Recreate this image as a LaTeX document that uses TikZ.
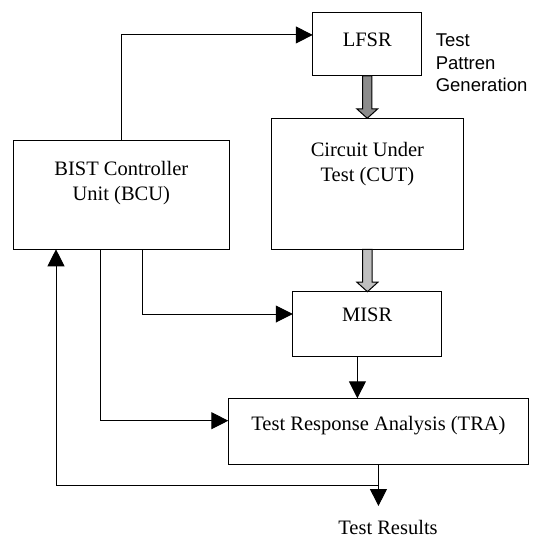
\documentclass[tikz,border=0pt]{standalone}
\usepackage{fontspec}
\setmainfont{Liberation Serif}
\newfontfamily\sidefont{Liberation Sans}
\usetikzlibrary{arrows.meta,calc}
\tikzset{
  box/.style={draw, line width=1pt, outer sep=0pt, inner sep=0pt, rectangle},
  lbl/.style={inner sep=0pt, anchor=base, align=center, font=\fontsize{20.5}{24.5}\selectfont},
  arr/.style={draw, line width=1pt, -{Triangle[length=17pt,width=17pt]}},
  wire/.style={draw, line width=1pt},
}
\newcommand\grayarrow[3]{%
  \filldraw[fill=#1, draw=black, line width=1pt, line join=miter]
    ([xshift=-4.7pt]#2) -- ([xshift=4.7pt]#2) -- ([xshift=4.7pt,yshift=9.5pt]#3)
    -- ([xshift=10.5pt,yshift=9.5pt]#3) -- (#3) -- ([xshift=-10.5pt,yshift=9.5pt]#3)
    -- ([xshift=-4.7pt,yshift=9.5pt]#3) -- cycle;}
\begin{document}
\begin{tikzpicture}[x=1pt,y=-1pt]
\useasboundingbox[fill=white] (0,0) rectangle (540,540);
% boxes
\node[box, minimum width=109pt, minimum height=63.3pt] (lfsr) at (367.25,44.35) {};
\node[box, minimum width=192.8pt, minimum height=131pt] (cut) at (367.4,183.8) {};
\node[box, minimum width=215.3pt, minimum height=108.3pt] (bcu) at (121.35,195.15) {};
\node[box, minimum width=149pt, minimum height=64.3pt] (misr) at (367.25,323.85) {};
\node[box, minimum width=300.3pt, minimum height=66pt] (tra) at (378.45,431.3) {};
% labels (multi-line labels anchored at the baseline of their last line)
\node[lbl] (lfsrt) at (367.25,47) {LFSR};
\node[lbl] (cutt) at (367.4,181) {Circuit Under\\Test (CUT)};
\node[lbl, font=\fontsize{20.5}{25.5}\selectfont] (bcut) at (121.35,200.5) {BIST Controller\\Unit (BCU)};
\node[lbl] (misrt) at (367.25,321.7) {MISR};
\node[lbl] (trat) at (378.45,430) {Test Response Analysis (TRA)};
\node[lbl] (res) at (388,534.5) {Test Results};
\node[inner sep=0pt, anchor=base west, align=left, font=\sidefont\fontsize{18.5}{22.5}\selectfont] (tpg) at (435.6,92) {Test\\Pattren\\Generation};
% gray data arrows
\coordinate (c1) at (lfsr.south |- cut.north);
\coordinate (c2) at (cut.south |- misr.north);
\grayarrow{black!45}{lfsr.south}{c1}
\grayarrow{black!25}{cut.south}{c2}
% control connectors
\draw[arr] (bcu.north) |- ([yshift=9.4pt]lfsr.west);
\draw[arr] ([xshift=21.2pt]bcu.south) |- ([yshift=9.85pt]misr.west);
\draw[arr] ([xshift=-21.15pt]bcu.south) |- ([yshift=10.6pt]tra.west);
\coordinate (m1) at ([xshift=-9.85pt]misr.south);
\draw[arr] (m1) -- (m1 |- tra.north);
\coordinate (rtip) at ([yshift=-41.7pt]tra.south);
\coordinate (j) at ([yshift=-20.7pt]tra.south);
\draw[arr] (tra.south) -- (rtip);
\draw[arr] (j) -| ([xshift=-65.35pt]bcu.south);
\end{tikzpicture}
\end{document}
